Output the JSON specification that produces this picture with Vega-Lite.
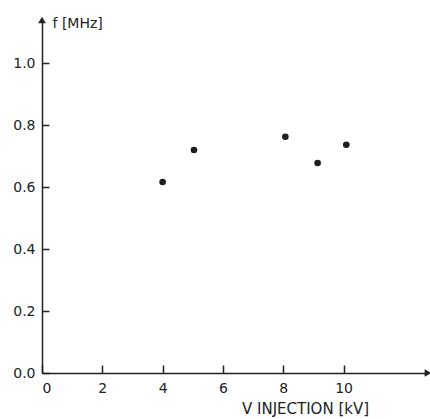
{
  "$schema": "https://vega.github.io/schema/vega-lite/v6.json",
  "autosize": "none",
  "padding": {"left": 42, "top": 20, "right": 2, "bottom": 46},
  "width": 386,
  "height": 353,
  "datasets": {
    "points": [
      {"v": 4.0, "f": 0.617},
      {"v": 5.04, "f": 0.72},
      {"v": 8.07, "f": 0.763},
      {"v": 9.14, "f": 0.678},
      {"v": 10.09, "f": 0.737}
    ],
    "arrows": [
      {"v": 0, "f": 1.14, "shape": "triangle-up"},
      {"v": 12.8, "f": 0, "shape": "triangle-right"}
    ]
  },
  "layer": [
    {
      "data": {"name": "points"},
      "mark": {"type": "point", "filled": true, "size": 44, "color": "#1e1e1e", "opacity": 1},
      "encoding": {
        "x": {
          "field": "v",
          "type": "quantitative",
          "scale": {"domain": [0, 12.8], "nice": false},
          "axis": {
            "values": [0, 2, 4, 6, 8, 10],
            "title": "V INJECTION [kV]",
            "titleX": 263,
            "titleY": 35,
            "titleAlign": "center",
            "titleBaseline": "middle",
            "titleFontSize": 15,
            "tickSize": -8,
            "labelPadding": 16
          }
        },
        "y": {
          "field": "f",
          "type": "quantitative",
          "scale": {"domain": [0, 1.14], "nice": false},
          "axis": {
            "values": [0, 0.2, 0.4, 0.6, 0.8, 1.0],
            "format": ".1f",
            "title": "f  [MHz]",
            "titleAngle": 0,
            "titleX": 10,
            "titleY": 3,
            "titleAlign": "left",
            "titleBaseline": "middle",
            "tickSize": -7,
            "labelPadding": 14
          }
        }
      }
    },
    {
      "data": {"name": "arrows"},
      "mark": {"type": "point", "filled": true, "size": 60, "color": "#222222", "opacity": 1},
      "encoding": {
        "x": {"field": "v", "type": "quantitative"},
        "y": {"field": "f", "type": "quantitative"},
        "shape": {"field": "shape", "type": "nominal", "scale": null}
      }
    }
  ],
  "config": {
    "view": {"stroke": null},
    "axis": {
      "grid": false,
      "domainColor": "#222222",
      "domainWidth": 1.5,
      "tickColor": "#222222",
      "tickWidth": 1.5,
      "labelFont": "DejaVu Sans",
      "labelFontSize": 14,
      "labelColor": "#222222",
      "titleFont": "DejaVu Sans",
      "titleFontSize": 14,
      "titleFontWeight": "normal",
      "titleColor": "#222222"
    }
  }
}
